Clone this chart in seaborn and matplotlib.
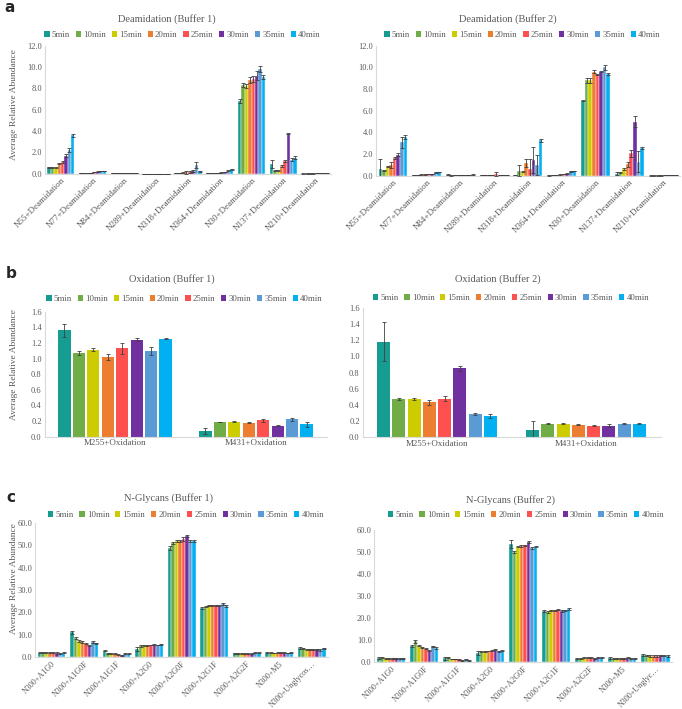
import matplotlib
matplotlib.use("Agg")
import matplotlib.pyplot as plt
from matplotlib.patches import Patch
from matplotlib.ticker import FormatStrFormatter
import seaborn as sns
import pandas as pd

sns.set_style("white")
plt.rcParams["font.family"] = ["Liberation Serif", "DejaVu Serif"]

# -----------------------------
# Data
# -----------------------------
times = ["5min", "10min", "15min", "20min", "25min", "30min", "35min", "40min"]
colors = ["#169C91", "#70AD47", "#CCCC00", "#ED7D31",
          "#FF5050", "#7030A0", "#5B9BD5", "#00B0F0"]

deam_sites = ["N55+Deamidation", "N77+Deamidation", "N84+Deamidation",
              "N289+Deamidation", "N318+Deamidation", "N364+Deamidation",
              "N30+Deamidation", "N137+Deamidation", "N210+Deamidation"]

deam_b1 = [
    [0.60, 0.60, 0.60, 0.95, 1.10, 1.70, 2.20, 3.60],
    [0.05, 0.05, 0.05, 0.10, 0.15, 0.20, 0.25, 0.25],
    [0.03, 0.03, 0.03, 0.05, 0.05, 0.08, 0.10, 0.10],
    [0.01, 0.01, 0.01, 0.01, 0.01, 0.01, 0.01, 0.01],
    [0.05, 0.08, 0.10, 0.15, 0.20, 0.25, 0.80, 0.25],
    [0.03, 0.05, 0.05, 0.08, 0.10, 0.15, 0.30, 0.40],
    [6.80, 8.30, 8.20, 8.80, 8.90, 9.20, 9.80, 9.10],
    [0.90, 0.30, 0.30, 0.70, 1.20, 3.75, 1.30, 1.50],
    [0.01, 0.01, 0.02, 0.02, 0.03, 0.04, 0.05, 0.07],
]
deam_b1_err = [
    [0.03, 0.03, 0.03, 0.08, 0.08, 0.15, 0.20, 0.15],
    [0.01, 0.01, 0.01, 0.01, 0.02, 0.02, 0.02, 0.02],
    [0.01, 0.01, 0.01, 0.01, 0.01, 0.01, 0.01, 0.01],
    [0.00, 0.00, 0.00, 0.00, 0.00, 0.00, 0.00, 0.00],
    [0.02, 0.02, 0.03, 0.15, 0.10, 0.10, 0.30, 0.05],
    [0.01, 0.01, 0.01, 0.02, 0.02, 0.02, 0.05, 0.05],
    [0.20, 0.20, 0.20, 0.30, 0.30, 0.40, 0.30, 0.20],
    [0.35, 0.05, 0.05, 0.10, 0.10, 0.05, 0.15, 0.15],
    [0.01, 0.01, 0.01, 0.01, 0.01, 0.01, 0.01, 0.01],
]

deam_b2 = [
    [0.65, 0.50, 0.85, 1.00, 1.65, 1.95, 3.10, 3.55],
    [0.03, 0.08, 0.10, 0.12, 0.15, 0.15, 0.30, 0.35],
    [0.10, 0.03, 0.05, 0.05, 0.08, 0.05, 0.08, 0.10],
    [0.03, 0.03, 0.05, 0.05, 0.15, 0.05, 0.05, 0.08],
    [0.05, 0.45, 0.35, 1.15, 0.65, 1.45, 1.00, 3.25],
    [0.02, 0.03, 0.05, 0.10, 0.15, 0.20, 0.40, 0.45],
    [6.90, 8.80, 8.80, 9.60, 9.30, 9.60, 10.00, 9.35],
    [0.20, 0.30, 0.65, 1.05, 2.05, 5.00, 1.30, 2.55],
    [0.01, 0.01, 0.02, 0.02, 0.03, 0.03, 0.05, 0.07],
]
deam_b2_err = [
    [0.90, 0.05, 0.05, 0.30, 0.10, 0.15, 0.50, 0.20],
    [0.01, 0.02, 0.02, 0.02, 0.02, 0.02, 0.03, 0.03],
    [0.02, 0.02, 0.02, 0.02, 0.02, 0.02, 0.02, 0.02],
    [0.01, 0.01, 0.01, 0.01, 0.15, 0.01, 0.01, 0.01],
    [0.02, 0.50, 0.05, 0.35, 0.90, 1.20, 0.90, 0.15],
    [0.01, 0.01, 0.01, 0.02, 0.02, 0.02, 0.03, 0.03],
    [0.05, 0.20, 0.20, 0.15, 0.05, 0.05, 0.25, 0.10],
    [0.10, 0.03, 0.10, 0.25, 0.35, 0.55, 1.00, 0.10],
    [0.01, 0.01, 0.01, 0.01, 0.01, 0.01, 0.01, 0.01],
]

ox_sites = ["M255+Oxidation", "M431+Oxidation"]
ox_b1 = [
    [1.36, 1.07, 1.11, 1.02, 1.13, 1.24, 1.10, 1.255],
    [0.07, 0.185, 0.19, 0.175, 0.21, 0.14, 0.22, 0.155],
]
ox_b1_err = [
    [0.08, 0.02, 0.02, 0.04, 0.07, 0.02, 0.05, 0.01],
    [0.04, 0.005, 0.01, 0.005, 0.02, 0.005, 0.02, 0.03],
]
ox_b2 = [
    [1.18, 0.475, 0.47, 0.43, 0.475, 0.85, 0.29, 0.26],
    [0.085, 0.17, 0.17, 0.155, 0.145, 0.145, 0.17, 0.17],
]
ox_b2_err = [
    [0.24, 0.01, 0.015, 0.03, 0.03, 0.03, 0.015, 0.025],
    [0.12, 0.005, 0.005, 0.005, 0.005, 0.02, 0.005, 0.005],
]

gly_sites_b1 = ["N300+A1G0", "N300+A1G0F", "N300+A1G1F", "N300+A2G0",
                "N300+A2G0F", "N300+A2G1F", "N300+A2G2F", "N300+M5",
                "N300+Unglycos…"]
gly_sites_b2 = gly_sites_b1[:-1] + ["N300+Unglyc…"]

gly_b1 = [
    [2.0, 2.0, 2.0, 2.0, 2.0, 1.9, 1.8, 2.0],
    [11.2, 8.5, 7.2, 6.8, 6.1, 5.2, 6.8, 6.2],
    [3.0, 1.8, 1.5, 1.5, 1.2, 1.0, 1.5, 1.6],
    [3.8, 5.0, 5.2, 5.3, 5.5, 5.7, 5.5, 5.8],
    [48.8, 50.8, 52.0, 52.0, 52.8, 54.2, 51.8, 51.8],
    [22.0, 22.5, 23.2, 23.2, 23.2, 23.0, 23.6, 23.0],
    [1.7, 1.7, 1.8, 1.6, 1.6, 1.6, 2.0, 2.0],
    [2.0, 2.0, 1.9, 2.0, 2.0, 2.0, 1.9, 2.0],
    [4.2, 4.0, 3.6, 3.6, 3.6, 3.5, 3.2, 4.0],
]
gly_b1_err = [
    [0.3, 0.3, 0.3, 0.3, 0.3, 0.3, 0.3, 0.3],
    [0.7, 0.4, 0.3, 0.3, 0.3, 0.3, 0.4, 0.3],
    [0.3, 0.3, 0.2, 0.2, 0.2, 0.2, 0.2, 0.2],
    [1.0, 0.3, 0.2, 0.2, 0.2, 0.2, 0.2, 0.2],
    [0.8, 0.4, 0.4, 0.4, 0.8, 0.5, 0.4, 0.4],
    [0.3, 0.3, 0.3, 0.3, 0.3, 0.3, 0.4, 0.4],
    [0.2, 0.2, 0.2, 0.2, 0.2, 0.2, 0.2, 0.2],
    [0.2, 0.2, 0.2, 0.2, 0.2, 0.2, 0.2, 0.2],
    [0.3, 0.3, 0.3, 0.3, 0.3, 0.3, 0.3, 0.3],
]
gly_b2 = [
    [2.0, 2.0, 1.8, 1.8, 1.8, 1.8, 1.8, 1.8],
    [7.5, 9.5, 7.5, 6.8, 6.2, 5.2, 7.2, 6.5],
    [1.8, 2.2, 1.5, 1.5, 1.3, 1.0, 1.3, 1.0],
    [4.2, 4.8, 5.0, 5.1, 5.3, 5.7, 5.0, 5.3],
    [53.5, 50.0, 52.5, 52.7, 53.0, 54.5, 52.0, 52.5],
    [23.2, 22.8, 23.5, 23.5, 23.8, 23.2, 23.6, 24.2],
    [1.7, 1.8, 2.0, 2.0, 2.0, 1.8, 2.0, 2.2],
    [1.8, 1.8, 1.8, 1.8, 1.8, 2.0, 1.8, 1.8],
    [3.3, 3.2, 2.8, 2.8, 2.9, 3.1, 3.0, 2.8],
]
gly_b2_err = [
    [0.5, 0.2, 0.2, 0.2, 0.2, 0.2, 0.2, 0.2],
    [0.5, 0.8, 0.3, 0.3, 0.3, 0.3, 0.4, 0.3],
    [0.7, 0.3, 0.2, 0.2, 0.2, 0.2, 0.2, 0.2],
    [0.8, 0.3, 0.2, 0.2, 0.2, 0.3, 0.2, 0.2],
    [1.8, 0.5, 0.4, 0.4, 0.4, 0.5, 0.4, 0.4],
    [0.3, 0.3, 0.3, 0.3, 0.3, 0.3, 0.3, 0.3],
    [0.2, 0.2, 0.2, 0.2, 0.2, 0.2, 0.2, 0.2],
    [0.4, 0.2, 0.2, 0.2, 0.2, 0.2, 0.2, 0.2],
    [0.3, 0.3, 0.3, 0.3, 0.3, 0.3, 0.3, 0.3],
]

W, H = 682, 709
TXT = "#595959"
AXC = "#D9D9D9"


def rect(x0, x1, ytop, ybot):
    return [x0 / W, 1 - ybot / H, (x1 - x0) / W, (ybot - ytop) / H]


def draw_panel(fig, box, sites, vals, errs, ymax, ystep, fmt,
               title, title_xy, legend_span, legend_y,
               rotate=True, gap=0.0, width=0.85, xfs=6.5):

    ax = fig.add_axes(rect(*box))

    df = pd.DataFrame(
        [(s, t, vals[i][j]) for i, s in enumerate(sites)
         for j, t in enumerate(times)],
        columns=["site", "time", "value"],
    )

    sns.barplot(
        data=df, x="site", y="value", hue="time",
        order=sites, hue_order=times, palette=colors, saturation=1,
        errorbar=None, width=width, gap=gap,
        edgecolor="white", linewidth=0.3 if gap == 0 else 0,
        legend=False, ax=ax,
    )

    # error bars from the bars seaborn placed
    bar_groups = list(ax.containers)
    for j, cont in enumerate(bar_groups):
        for i, bar in enumerate(cont.patches):
            ax.errorbar(
                bar.get_x() + bar.get_width() / 2, bar.get_height(),
                yerr=errs[i][j], fmt="none", ecolor="#404040",
                elinewidth=0.6, capsize=1.4, capthick=0.6, zorder=5,
            )

    ax.set_ylim(0, ymax)
    ax.set_xlim(-0.5, len(sites) - 0.5)
    ax.set_yticks([k * ystep for k in range(int(round(ymax / ystep)) + 1)])
    ax.yaxis.set_major_formatter(FormatStrFormatter(fmt))
    ax.set_xlabel("")
    ax.set_ylabel("")
    ax.tick_params(axis="both", length=0, labelsize=6, colors=TXT, pad=2)

    if rotate:
        plt.setp(ax.get_xticklabels(), rotation=45, ha="right",
                 rotation_mode="anchor", fontsize=xfs)
    else:
        plt.setp(ax.get_xticklabels(), fontsize=xfs)

    for side in ["top", "right"]:
        ax.spines[side].set_visible(False)
    for side in ["left", "bottom"]:
        ax.spines[side].set_color(AXC)
        ax.spines[side].set_linewidth(0.8)

    fig.text(title_xy[0] / W, 1 - title_xy[1] / H, title,
             ha="center", va="center", fontsize=7.5, color=TXT)

    handles = [Patch(facecolor=c, edgecolor="none") for c in colors]
    fig.legend(
        handles, times, loc="center", ncol=8,
        bbox_to_anchor=((legend_span[0] + legend_span[1]) / 2 / W,
                        1 - legend_y / H),
        frameon=False, fontsize=6.3, handlelength=0.6, handleheight=0.6,
        handletextpad=0.25, columnspacing=0.65, borderpad=0,
        labelcolor=TXT,
    )

    return ax


fig = plt.figure(figsize=(W / 100, H / 100), dpi=100)

# -----------------------------
# a: Deamidation
# -----------------------------
draw_panel(fig, (45, 331, 45.7, 173.7), deam_sites, deam_b1, deam_b1_err,
           12, 2, "%.1f", "Deamidation (Buffer 1)", (167, 19), (45, 320), 35)
draw_panel(fig, (376, 680, 45.7, 175.7), deam_sites, deam_b2, deam_b2_err,
           12, 2, "%.1f", "Deamidation (Buffer 2)", (508, 19), (376, 669), 35)

# -----------------------------
# b: Oxidation
# -----------------------------
draw_panel(fig, (44.5, 326.5, 311.7, 436.5), ox_sites, ox_b1, ox_b1_err,
           1.6, 0.2, "%.1f", "Oxidation (Buffer 1)", (172, 279), (47, 322), 299,
           rotate=False, gap=0.15, width=0.82)
draw_panel(fig, (362.5, 660.5, 307.7, 437.3), ox_sites, ox_b2, ox_b2_err,
           1.6, 0.2, "%.1f", "Oxidation (Buffer 2)", (498, 279), (363, 659), 298,
           rotate=False, gap=0.15, width=0.82)

# -----------------------------
# c: N-Glycans
# -----------------------------
draw_panel(fig, (35.4, 328, 522.7, 657.3), gly_sites_b1, gly_b1, gly_b1_err,
           60, 10, "%.1f", "N-Glycans (Buffer 1)", (168, 498), (50, 322), 515,
           xfs=5.9)
draw_panel(fig, (374.5, 672, 530, 662.3), gly_sites_b2, gly_b2, gly_b2_err,
           60, 10, "%.1f", "N-Glycans (Buffer 2)", (511, 500), (378, 674), 515,
           xfs=5.9)

# y labels and panel letters
for yc in [105, 365, 578]:
    fig.text(14 / W, 1 - yc / H, "Average Relative Abundance", rotation=90,
             ha="center", va="center", fontsize=6.8, color=TXT)

for letter, x, y in [("a", 10, 8), ("b", 11, 273), ("c", 11, 497)]:
    fig.text(x / W, 1 - y / H, letter, ha="center", va="center",
             fontsize=11, fontweight="bold", family="DejaVu Sans")

fig.savefig("out.png", dpi=100)
plt.close(fig)
